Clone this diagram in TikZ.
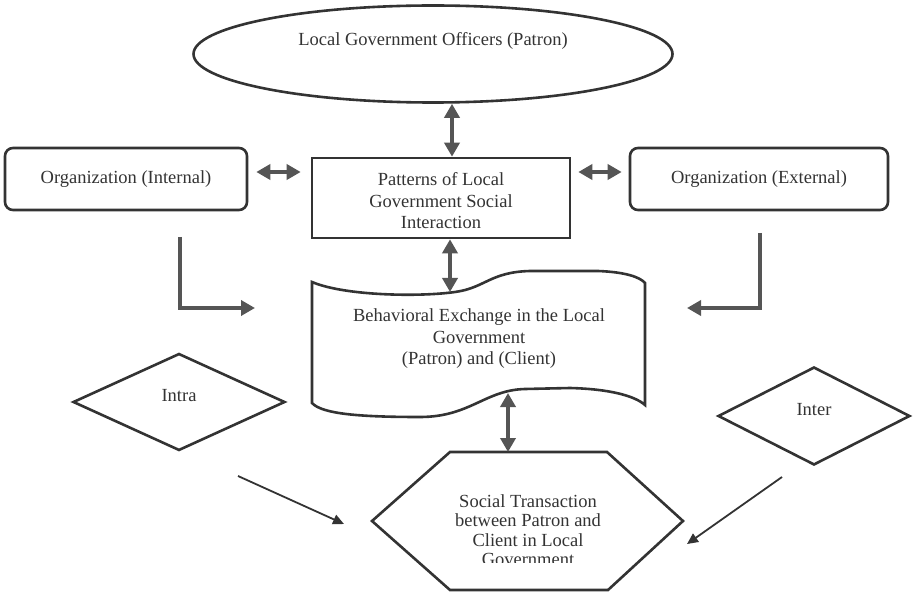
\documentclass[tikz,border=0pt]{standalone}
\usepackage{fontspec}
\setmainfont{Liberation Serif}
\usetikzlibrary{shapes.geometric,arrows.meta}
\definecolor{ink}{HTML}{333333}
\definecolor{arr}{HTML}{555555}
\begin{document}
\begin{tikzpicture}[x=1pt,y=-1pt,
 every node/.style={font=\fontsize{18.5}{21.5}\selectfont, text=ink},
 outl/.style={draw=ink, line width=2.6pt},
 rbox/.style={outl, rounded corners=8pt, minimum width=242pt, minimum height=62pt, inner sep=0pt},
 dbl/.style={draw=arr, line width=4.5pt, {Triangle[length=14pt,width=15pt]}-{Triangle[length=14pt,width=15pt]}},
 sgl/.style={draw=arr, line width=4.5pt, line join=miter, -{Triangle[length=14pt,width=15pt]}},
 thinarr/.style={draw=ink, line width=1.8pt, -{Triangle[length=11pt,width=10pt]}},
]
\useasboundingbox (0,0) rectangle (916,596);

% top ellipse
\node[outl, ellipse, minimum width=479pt, minimum height=97pt, inner sep=0pt,
  label={[yshift=13pt]center:Local Government Officers (Patron)}] (ell) at (433,54) {};

% boxes
\node[rbox] (orgin) at (126,179) {Organization (Internal)};
\node[rbox, minimum width=258pt] (orgex) at (759,179) {Organization (External)};
\node[outl, rectangle, minimum width=258pt, minimum height=80pt, inner sep=0pt,
  label={[align=center, yshift=-3pt]center:Patterns of Local\\Government Social\\Interaction}] (pat) at (441,198) {};

% wave (tape) shape
\draw[outl] (312,282) .. controls (345,296) and (420,297) .. (455,292)
  .. controls (485,288) and (490,272) .. (530,271) -- (598,271)
  .. controls (625,272) and (640,277) .. (645,283) -- (645,405)
  .. controls (635,396) and (610,389) .. (570,388) -- (525,389)
  .. controls (485,390) and (470,417) .. (420,417)
  .. controls (360,417) and (322,414) .. (312,403) -- cycle;
\node[align=center] (beh) at (479,339) {Behavioral Exchange in the Local\\Government\\(Patron) and (Client)};
\coordinate (wtop) at (450,292);
\coordinate (wbot) at (508,393);

% hexagon
\coordinate (h1) at (372,521);
\coordinate (h2) at (450,452);
\coordinate (h3) at (607,452);
\coordinate (h4) at (683,521);
\coordinate (h5) at (608,590);
\coordinate (h6) at (450,590);
\draw[outl, line join=miter] (h1) -- (h2) -- (h3) -- (h4) -- (h5) -- (h6) -- cycle;
\begin{scope}
\clip (380,460) rectangle (680,562);
\node[align=center, font=\fontsize{18.5}{19.5}\selectfont] (soc) at (528,530)
  {Social Transaction\\between Patron and\\Client in Local\\Government};
\end{scope}

% diamonds
\node[outl, diamond, minimum width=212pt, minimum height=97pt, inner sep=0pt,
  label={[yshift=6pt]center:Intra}] (intra) at (179,402) {};
\node[outl, diamond, minimum width=192pt, minimum height=98pt, inner sep=0pt,
  label={[yshift=6pt]center:Inter}] (inter) at (814,416) {};

% double arrows
\coordinate (ax) at (452,0);
\draw[dbl] (ell.south -| ax) -- (pat.north -| ax);
\coordinate (ly) at (0,172);
\draw[dbl, shorten <=8pt, shorten >=10pt] (orgin.east |- ly) -- (pat.west |- ly);
\draw[dbl, shorten <=7pt, shorten >=7pt] (pat.east |- ly) -- (orgex.west |- ly);
\draw[dbl] (pat.south -| wtop) -- (wtop);
\draw[dbl] (wbot) -- (h2 -| wbot);

% L-shaped arrows
\coordinate (l1) at (180,237);
\coordinate (l2) at (180,308);
\coordinate (l3) at (255,308);
\draw[sgl] (l1) -- (l2) -- (l3);
\coordinate (r1) at (760,233);
\coordinate (r2) at (760,308);
\coordinate (r3) at (687,308);
\draw[sgl] (r1) -- (r2) -- (r3);

% thin arrows
\coordinate (t1) at (238,476);
\coordinate (t2) at (344,524);
\draw[thinarr] (t1) -- (t2);
\coordinate (u1) at (782,477);
\coordinate (u2) at (687,544);
\draw[thinarr] (u1) -- (u2);
\end{tikzpicture}
\end{document}
